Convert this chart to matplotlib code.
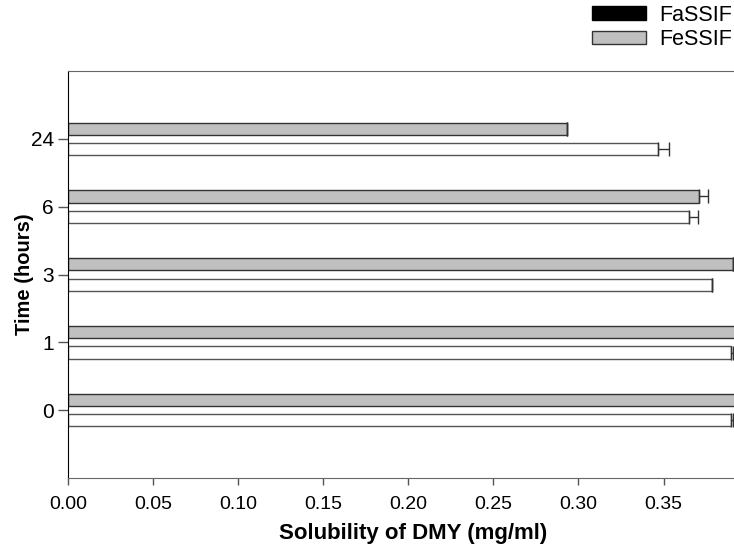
import numpy as np
import matplotlib
matplotlib.use('Agg')
import matplotlib.pyplot as plt
from matplotlib.patches import Patch

plt.rcParams['font.family'] = ['Liberation Sans', 'DejaVu Sans']

# data
times = ['0', '1', '3', '6', '24']
fessif = [0.400, 0.400, 0.391, 0.371, 0.293]
fessif_err = [0.0, 0.0, 0.0, 0.005, 0.0]
fassif = [0.3898, 0.3898, 0.3787, 0.365, 0.347]
fassif_err = [0.001, 0.001, 0.0, 0.005, 0.006]

fig = plt.figure(figsize=(7.34, 5.44), dpi=100)
ax = fig.add_axes([68/734, 66/544, 1.01 - 68/734, 407/544])

y = np.arange(len(times))
h = 0.18
off = 0.15
ax.barh(y + off, fessif, height=h, color='#c0c0c0', edgecolor='#333333', linewidth=1.0)
ax.barh(y - off, fassif, height=h, color='white', edgecolor='#555555', linewidth=1.0)
ax.errorbar(fessif, y + off, xerr=[np.zeros(len(times)), fessif_err], fmt='none',
            ecolor='#333333', elinewidth=1.0, capsize=5)
ax.errorbar(fassif, y - off, xerr=[np.zeros(len(times)), fassif_err], fmt='none',
            ecolor='#333333', elinewidth=1.0, capsize=5)

ax.set_xlim(0, 0.3957)
ax.set_ylim(-1, 5)
ax.set_xticks(np.arange(0, 0.36, 0.05))
ax.set_xticklabels(['%.2f' % v for v in np.arange(0, 0.36, 0.05)])
ax.set_yticks(y)
ax.set_yticklabels(times)
ax.tick_params(axis='x', direction='out', length=5, width=1, color='#555555', labelsize=14, pad=8)
ax.tick_params(axis='y', direction='out', length=7, width=1, color='#555555', labelsize=15, pad=3)
ax.spines['left'].set_color('black')
ax.spines['bottom'].set_color('#666666')
ax.spines['top'].set_color('#666666')
ax.spines['right'].set_visible(False)

ax.set_xlabel('Solubility of DMY (mg/ml)', fontsize=16, fontweight='bold')
ax.set_ylabel('Time (hours)', fontsize=14.5, fontweight='bold')
ax.xaxis.set_label_coords((409 - 68) / 666, (478 - 523) / 407)
ax.yaxis.set_label_coords((34 - 68) / 666, (478 - 274) / 407)

handles = [Patch(facecolor='black', edgecolor='black'),
           Patch(facecolor='#c0c0c0', edgecolor='#333333')]
fig.legend(handles, ['FaSSIF', 'FeSSIF'], loc='upper right', bbox_to_anchor=(1.0, 0.995),
           frameon=False, fontsize=15.5, handlelength=2.5, handleheight=0.6,
           labelspacing=0.15, handletextpad=0.6, borderaxespad=0.0, borderpad=0.1)

fig.savefig('out.png', dpi=100)
